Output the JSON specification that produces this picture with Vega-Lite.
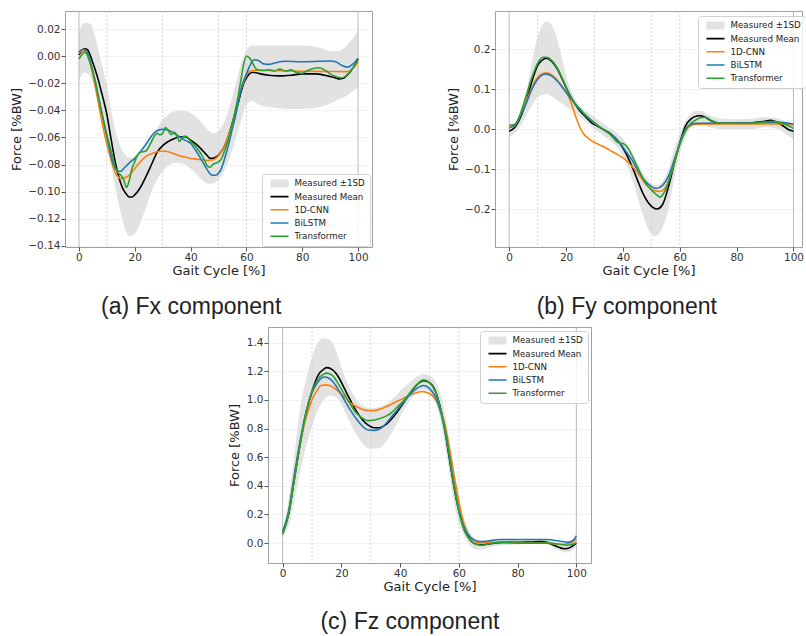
{
  "$schema": "https://vega.github.io/schema/vega-lite/v6.json",
  "background": "white",
  "padding": {"left": 9, "top": 10, "right": 0, "bottom": 0},
  "datasets": {
    "edges": [{"x": 0}, {"x": 100}],
    "phases": [{"x": 10}, {"x": 30}, {"x": 50}, {"x": 60}],
    "aband": [
      {"x":0,"lo":-0.018,"hi":0.018},{"x":2,"lo":-0.012,"hi":0.025},{"x":4,"lo":-0.015,"hi":0.024},{"x":6,"lo":-0.025,"hi":0.013},{"x":8,"lo":-0.04,"hi":-0.004},{"x":10,"lo":-0.06,"hi":-0.022},{"x":12,"lo":-0.085,"hi":-0.045},{"x":14,"lo":-0.107,"hi":-0.062},{"x":16,"lo":-0.124,"hi":-0.071},{"x":18,"lo":-0.133,"hi":-0.075},{"x":20,"lo":-0.131,"hi":-0.074},{"x":22,"lo":-0.123,"hi":-0.071},{"x":24,"lo":-0.112,"hi":-0.066},{"x":26,"lo":-0.1,"hi":-0.06},{"x":28,"lo":-0.091,"hi":-0.053},{"x":30,"lo":-0.085,"hi":-0.047},{"x":32,"lo":-0.081,"hi":-0.043},{"x":34,"lo":-0.079,"hi":-0.041},{"x":36,"lo":-0.079,"hi":-0.04},{"x":38,"lo":-0.08,"hi":-0.04},{"x":40,"lo":-0.083,"hi":-0.042},{"x":42,"lo":-0.087,"hi":-0.045},{"x":44,"lo":-0.091,"hi":-0.049},{"x":46,"lo":-0.094,"hi":-0.054},{"x":48,"lo":-0.094,"hi":-0.057},{"x":50,"lo":-0.091,"hi":-0.055},{"x":52,"lo":-0.085,"hi":-0.049},{"x":54,"lo":-0.075,"hi":-0.037},{"x":56,"lo":-0.062,"hi":-0.022},{"x":58,"lo":-0.048,"hi":-0.006},{"x":60,"lo":-0.036,"hi":0.004},{"x":62,"lo":-0.033,"hi":0.008},{"x":64,"lo":-0.035,"hi":0.008},{"x":66,"lo":-0.037,"hi":0.008},{"x":70,"lo":-0.038,"hi":0.008},{"x":75,"lo":-0.039,"hi":0.008},{"x":80,"lo":-0.039,"hi":0.008},{"x":85,"lo":-0.038,"hi":0.007},{"x":90,"lo":-0.035,"hi":0.004},{"x":93,"lo":-0.032,"hi":0.004},{"x":96,"lo":-0.029,"hi":0.008},{"x":98,"lo":-0.026,"hi":0.013},{"x":100,"lo":-0.023,"hi":0.019}
    ],
    "alines": [
      {"s":"Measured Mean","x":0,"y":0.001},{"s":"Measured Mean","x":1,"y":0.004},{"s":"Measured Mean","x":2,"y":0.0055},{"s":"Measured Mean","x":3,"y":0.005},{"s":"Measured Mean","x":4,"y":0.001},{"s":"Measured Mean","x":5,"y":-0.005},{"s":"Measured Mean","x":6,"y":-0.011},{"s":"Measured Mean","x":7,"y":-0.018},{"s":"Measured Mean","x":8,"y":-0.026},{"s":"Measured Mean","x":9,"y":-0.034},{"s":"Measured Mean","x":10,"y":-0.043},{"s":"Measured Mean","x":11,"y":-0.055},{"s":"Measured Mean","x":12,"y":-0.067},{"s":"Measured Mean","x":13,"y":-0.078},{"s":"Measured Mean","x":14,"y":-0.087},{"s":"Measured Mean","x":15,"y":-0.094},{"s":"Measured Mean","x":16,"y":-0.099},{"s":"Measured Mean","x":17,"y":-0.102},{"s":"Measured Mean","x":18,"y":-0.104},{"s":"Measured Mean","x":19,"y":-0.104},{"s":"Measured Mean","x":20,"y":-0.1025},{"s":"Measured Mean","x":22,"y":-0.097},{"s":"Measured Mean","x":24,"y":-0.089},{"s":"Measured Mean","x":26,"y":-0.08},{"s":"Measured Mean","x":28,"y":-0.071},{"s":"Measured Mean","x":30,"y":-0.066},{"s":"Measured Mean","x":32,"y":-0.063},{"s":"Measured Mean","x":34,"y":-0.061},{"s":"Measured Mean","x":36,"y":-0.0595},{"s":"Measured Mean","x":38,"y":-0.0595},{"s":"Measured Mean","x":40,"y":-0.062},{"s":"Measured Mean","x":42,"y":-0.065},{"s":"Measured Mean","x":44,"y":-0.069},{"s":"Measured Mean","x":46,"y":-0.0735},{"s":"Measured Mean","x":47,"y":-0.0755},{"s":"Measured Mean","x":48,"y":-0.0755},{"s":"Measured Mean","x":49,"y":-0.0745},{"s":"Measured Mean","x":50,"y":-0.073},{"s":"Measured Mean","x":51,"y":-0.0705},{"s":"Measured Mean","x":52,"y":-0.067},{"s":"Measured Mean","x":53,"y":-0.062},{"s":"Measured Mean","x":54,"y":-0.056},{"s":"Measured Mean","x":55,"y":-0.049},{"s":"Measured Mean","x":56,"y":-0.042},{"s":"Measured Mean","x":57,"y":-0.035},{"s":"Measured Mean","x":58,"y":-0.027},{"s":"Measured Mean","x":59,"y":-0.02},{"s":"Measured Mean","x":60,"y":-0.016},{"s":"Measured Mean","x":61,"y":-0.013},{"s":"Measured Mean","x":62,"y":-0.012},{"s":"Measured Mean","x":63,"y":-0.012},{"s":"Measured Mean","x":65,"y":-0.013},{"s":"Measured Mean","x":68,"y":-0.014},{"s":"Measured Mean","x":72,"y":-0.0145},{"s":"Measured Mean","x":76,"y":-0.014},{"s":"Measured Mean","x":80,"y":-0.013},{"s":"Measured Mean","x":85,"y":-0.013},{"s":"Measured Mean","x":88,"y":-0.014},{"s":"Measured Mean","x":90,"y":-0.015},{"s":"Measured Mean","x":92,"y":-0.016},{"s":"Measured Mean","x":93,"y":-0.0167},{"s":"Measured Mean","x":95,"y":-0.016},{"s":"Measured Mean","x":96,"y":-0.014},{"s":"Measured Mean","x":97,"y":-0.012},{"s":"Measured Mean","x":98,"y":-0.009},{"s":"Measured Mean","x":99,"y":-0.006},{"s":"Measured Mean","x":100,"y":-0.002},
      {"s":"1D-CNN","x":0,"y":0.002},{"s":"1D-CNN","x":1,"y":0.004},{"s":"1D-CNN","x":2,"y":0.004},{"s":"1D-CNN","x":3,"y":0.001},{"s":"1D-CNN","x":4,"y":-0.005},{"s":"1D-CNN","x":5,"y":-0.014},{"s":"1D-CNN","x":6,"y":-0.024},{"s":"1D-CNN","x":7,"y":-0.035},{"s":"1D-CNN","x":8,"y":-0.046},{"s":"1D-CNN","x":9,"y":-0.056},{"s":"1D-CNN","x":10,"y":-0.065},{"s":"1D-CNN","x":11,"y":-0.073},{"s":"1D-CNN","x":12,"y":-0.08},{"s":"1D-CNN","x":13,"y":-0.086},{"s":"1D-CNN","x":14,"y":-0.089},{"s":"1D-CNN","x":15,"y":-0.0905},{"s":"1D-CNN","x":16,"y":-0.09},{"s":"1D-CNN","x":18,"y":-0.088},{"s":"1D-CNN","x":20,"y":-0.083},{"s":"1D-CNN","x":22,"y":-0.078},{"s":"1D-CNN","x":24,"y":-0.074},{"s":"1D-CNN","x":26,"y":-0.072},{"s":"1D-CNN","x":28,"y":-0.0705},{"s":"1D-CNN","x":30,"y":-0.07},{"s":"1D-CNN","x":32,"y":-0.0705},{"s":"1D-CNN","x":34,"y":-0.072},{"s":"1D-CNN","x":36,"y":-0.0735},{"s":"1D-CNN","x":38,"y":-0.0745},{"s":"1D-CNN","x":40,"y":-0.0755},{"s":"1D-CNN","x":42,"y":-0.076},{"s":"1D-CNN","x":44,"y":-0.0765},{"s":"1D-CNN","x":46,"y":-0.077},{"s":"1D-CNN","x":48,"y":-0.0765},{"s":"1D-CNN","x":49,"y":-0.0755},{"s":"1D-CNN","x":50,"y":-0.0735},{"s":"1D-CNN","x":51,"y":-0.0705},{"s":"1D-CNN","x":52,"y":-0.067},{"s":"1D-CNN","x":53,"y":-0.062},{"s":"1D-CNN","x":54,"y":-0.056},{"s":"1D-CNN","x":55,"y":-0.05},{"s":"1D-CNN","x":56,"y":-0.041},{"s":"1D-CNN","x":57,"y":-0.033},{"s":"1D-CNN","x":58,"y":-0.025},{"s":"1D-CNN","x":59,"y":-0.019},{"s":"1D-CNN","x":60,"y":-0.014},{"s":"1D-CNN","x":61,"y":-0.0115},{"s":"1D-CNN","x":62,"y":-0.0105},{"s":"1D-CNN","x":64,"y":-0.0103},{"s":"1D-CNN","x":70,"y":-0.0105},{"s":"1D-CNN","x":80,"y":-0.011},{"s":"1D-CNN","x":90,"y":-0.0112},{"s":"1D-CNN","x":95,"y":-0.0113},{"s":"1D-CNN","x":97,"y":-0.011},{"s":"1D-CNN","x":98,"y":-0.009},{"s":"1D-CNN","x":99,"y":-0.007},{"s":"1D-CNN","x":100,"y":-0.004},
      {"s":"BiLSTM","x":0,"y":0.003},{"s":"BiLSTM","x":1,"y":0.005},{"s":"BiLSTM","x":2,"y":0.005},{"s":"BiLSTM","x":3,"y":0.003},{"s":"BiLSTM","x":4,"y":-0.003},{"s":"BiLSTM","x":5,"y":-0.011},{"s":"BiLSTM","x":6,"y":-0.02},{"s":"BiLSTM","x":7,"y":-0.03},{"s":"BiLSTM","x":8,"y":-0.04},{"s":"BiLSTM","x":9,"y":-0.05},{"s":"BiLSTM","x":10,"y":-0.0595},{"s":"BiLSTM","x":11,"y":-0.069},{"s":"BiLSTM","x":12,"y":-0.078},{"s":"BiLSTM","x":13,"y":-0.083},{"s":"BiLSTM","x":14,"y":-0.085},{"s":"BiLSTM","x":15,"y":-0.085},{"s":"BiLSTM","x":16,"y":-0.083},{"s":"BiLSTM","x":18,"y":-0.079},{"s":"BiLSTM","x":20,"y":-0.0755},{"s":"BiLSTM","x":22,"y":-0.0705},{"s":"BiLSTM","x":24,"y":-0.065},{"s":"BiLSTM","x":26,"y":-0.059},{"s":"BiLSTM","x":27,"y":-0.0565},{"s":"BiLSTM","x":28,"y":-0.055},{"s":"BiLSTM","x":30,"y":-0.054},{"s":"BiLSTM","x":32,"y":-0.0545},{"s":"BiLSTM","x":34,"y":-0.057},{"s":"BiLSTM","x":36,"y":-0.0595},{"s":"BiLSTM","x":38,"y":-0.062},{"s":"BiLSTM","x":40,"y":-0.0645},{"s":"BiLSTM","x":42,"y":-0.07},{"s":"BiLSTM","x":44,"y":-0.077},{"s":"BiLSTM","x":46,"y":-0.084},{"s":"BiLSTM","x":47,"y":-0.087},{"s":"BiLSTM","x":48,"y":-0.088},{"s":"BiLSTM","x":49,"y":-0.088},{"s":"BiLSTM","x":50,"y":-0.0865},{"s":"BiLSTM","x":51,"y":-0.083},{"s":"BiLSTM","x":52,"y":-0.077},{"s":"BiLSTM","x":53,"y":-0.07},{"s":"BiLSTM","x":54,"y":-0.062},{"s":"BiLSTM","x":55,"y":-0.053},{"s":"BiLSTM","x":56,"y":-0.045},{"s":"BiLSTM","x":57,"y":-0.035},{"s":"BiLSTM","x":58,"y":-0.025},{"s":"BiLSTM","x":59,"y":-0.018},{"s":"BiLSTM","x":60,"y":-0.013},{"s":"BiLSTM","x":61,"y":-0.008},{"s":"BiLSTM","x":62,"y":-0.004},{"s":"BiLSTM","x":63,"y":-0.0025},{"s":"BiLSTM","x":64,"y":-0.003},{"s":"BiLSTM","x":65,"y":-0.004},{"s":"BiLSTM","x":66,"y":-0.0055},{"s":"BiLSTM","x":68,"y":-0.006},{"s":"BiLSTM","x":70,"y":-0.005},{"s":"BiLSTM","x":74,"y":-0.0037},{"s":"BiLSTM","x":80,"y":-0.004},{"s":"BiLSTM","x":86,"y":-0.0037},{"s":"BiLSTM","x":90,"y":-0.0035},{"s":"BiLSTM","x":92,"y":-0.004},{"s":"BiLSTM","x":94,"y":-0.0065},{"s":"BiLSTM","x":96,"y":-0.008},{"s":"BiLSTM","x":97,"y":-0.0075},{"s":"BiLSTM","x":98,"y":-0.006},{"s":"BiLSTM","x":99,"y":-0.004},{"s":"BiLSTM","x":100,"y":-0.0015},
      {"s":"Transformer","x":0,"y":-0.002},{"s":"Transformer","x":1,"y":0.001},{"s":"Transformer","x":2,"y":0.003},{"s":"Transformer","x":3,"y":0.001},{"s":"Transformer","x":4,"y":-0.005},{"s":"Transformer","x":5,"y":-0.012},{"s":"Transformer","x":6,"y":-0.02},{"s":"Transformer","x":7,"y":-0.03},{"s":"Transformer","x":8,"y":-0.04},{"s":"Transformer","x":9,"y":-0.049},{"s":"Transformer","x":10,"y":-0.058},{"s":"Transformer","x":11,"y":-0.066},{"s":"Transformer","x":12,"y":-0.074},{"s":"Transformer","x":13,"y":-0.082},{"s":"Transformer","x":14,"y":-0.086},{"s":"Transformer","x":15,"y":-0.088},{"s":"Transformer","x":16,"y":-0.091},{"s":"Transformer","x":17,"y":-0.097},{"s":"Transformer","x":18,"y":-0.092},{"s":"Transformer","x":19,"y":-0.083},{"s":"Transformer","x":20,"y":-0.078},{"s":"Transformer","x":21,"y":-0.073},{"s":"Transformer","x":22,"y":-0.071},{"s":"Transformer","x":23,"y":-0.0705},{"s":"Transformer","x":24,"y":-0.07},{"s":"Transformer","x":25,"y":-0.067},{"s":"Transformer","x":26,"y":-0.063},{"s":"Transformer","x":27,"y":-0.059},{"s":"Transformer","x":28,"y":-0.057},{"s":"Transformer","x":29,"y":-0.058},{"s":"Transformer","x":30,"y":-0.057},{"s":"Transformer","x":31,"y":-0.0525},{"s":"Transformer","x":32,"y":-0.055},{"s":"Transformer","x":33,"y":-0.058},{"s":"Transformer","x":34,"y":-0.056},{"s":"Transformer","x":35,"y":-0.058},{"s":"Transformer","x":36,"y":-0.063},{"s":"Transformer","x":37,"y":-0.06},{"s":"Transformer","x":38,"y":-0.059},{"s":"Transformer","x":39,"y":-0.06},{"s":"Transformer","x":40,"y":-0.063},{"s":"Transformer","x":41,"y":-0.065},{"s":"Transformer","x":42,"y":-0.067},{"s":"Transformer","x":43,"y":-0.07},{"s":"Transformer","x":44,"y":-0.073},{"s":"Transformer","x":45,"y":-0.077},{"s":"Transformer","x":46,"y":-0.081},{"s":"Transformer","x":47,"y":-0.082},{"s":"Transformer","x":48,"y":-0.08},{"s":"Transformer","x":49,"y":-0.079},{"s":"Transformer","x":50,"y":-0.078},{"s":"Transformer","x":51,"y":-0.076},{"s":"Transformer","x":52,"y":-0.071},{"s":"Transformer","x":53,"y":-0.065},{"s":"Transformer","x":54,"y":-0.058},{"s":"Transformer","x":55,"y":-0.05},{"s":"Transformer","x":56,"y":-0.04},{"s":"Transformer","x":57,"y":-0.03},{"s":"Transformer","x":58,"y":-0.018},{"s":"Transformer","x":59,"y":-0.006},{"s":"Transformer","x":60,"y":0.0},{"s":"Transformer","x":61,"y":-0.001},{"s":"Transformer","x":62,"y":-0.004},{"s":"Transformer","x":63,"y":-0.008},{"s":"Transformer","x":64,"y":-0.01},{"s":"Transformer","x":66,"y":-0.0105},{"s":"Transformer","x":68,"y":-0.01},{"s":"Transformer","x":70,"y":-0.011},{"s":"Transformer","x":72,"y":-0.0095},{"s":"Transformer","x":74,"y":-0.011},{"s":"Transformer","x":76,"y":-0.01},{"s":"Transformer","x":78,"y":-0.012},{"s":"Transformer","x":80,"y":-0.0125},{"s":"Transformer","x":82,"y":-0.0105},{"s":"Transformer","x":84,"y":-0.009},{"s":"Transformer","x":86,"y":-0.0085},{"s":"Transformer","x":88,"y":-0.01},{"s":"Transformer","x":90,"y":-0.013},{"s":"Transformer","x":92,"y":-0.015},{"s":"Transformer","x":94,"y":-0.016},{"s":"Transformer","x":96,"y":-0.014},{"s":"Transformer","x":98,"y":-0.009},{"s":"Transformer","x":100,"y":-0.003}
    ],
    "bband": [
      {"x":0,"lo":-0.02,"hi":0.01},{"x":2,"lo":-0.01,"hi":0.016},{"x":4,"lo":0.01,"hi":0.045},{"x":6,"lo":0.035,"hi":0.09},{"x":8,"lo":0.06,"hi":0.17},{"x":10,"lo":0.08,"hi":0.23},{"x":12,"lo":0.087,"hi":0.265},{"x":13,"lo":0.088,"hi":0.27},{"x":14,"lo":0.086,"hi":0.268},{"x":16,"lo":0.077,"hi":0.245},{"x":18,"lo":0.067,"hi":0.195},{"x":20,"lo":0.057,"hi":0.135},{"x":22,"lo":0.047,"hi":0.092},{"x":24,"lo":0.036,"hi":0.066},{"x":26,"lo":0.024,"hi":0.05},{"x":28,"lo":0.011,"hi":0.04},{"x":30,"lo":0.0,"hi":0.03},{"x":32,"lo":-0.01,"hi":0.02},{"x":34,"lo":-0.02,"hi":0.01},{"x":36,"lo":-0.032,"hi":0.0},{"x":38,"lo":-0.045,"hi":-0.01},{"x":40,"lo":-0.068,"hi":-0.024},{"x":42,"lo":-0.1,"hi":-0.044},{"x":44,"lo":-0.142,"hi":-0.07},{"x":46,"lo":-0.19,"hi":-0.098},{"x":48,"lo":-0.235,"hi":-0.12},{"x":50,"lo":-0.262,"hi":-0.135},{"x":51,"lo":-0.268,"hi":-0.139},{"x":52,"lo":-0.266,"hi":-0.14},{"x":54,"lo":-0.245,"hi":-0.13},{"x":56,"lo":-0.2,"hi":-0.1},{"x":58,"lo":-0.125,"hi":-0.05},{"x":60,"lo":-0.06,"hi":-0.012},{"x":62,"lo":-0.02,"hi":0.02},{"x":64,"lo":0.005,"hi":0.04},{"x":66,"lo":0.015,"hi":0.046},{"x":68,"lo":0.015,"hi":0.045},{"x":70,"lo":0.006,"hi":0.036},{"x":75,"lo":0.0,"hi":0.026},{"x":80,"lo":0.0,"hi":0.025},{"x":85,"lo":0.0,"hi":0.026},{"x":90,"lo":0.005,"hi":0.03},{"x":94,"lo":0.002,"hi":0.028},{"x":97,"lo":-0.01,"hi":0.02},{"x":100,"lo":-0.025,"hi":0.012}
    ],
    "blines": [
      {"s":"Measured Mean","x":0,"y":-0.005},{"s":"Measured Mean","x":2,"y":0.005},{"s":"Measured Mean","x":4,"y":0.03},{"s":"Measured Mean","x":6,"y":0.07},{"s":"Measured Mean","x":8,"y":0.12},{"s":"Measured Mean","x":10,"y":0.16},{"s":"Measured Mean","x":12,"y":0.175},{"s":"Measured Mean","x":13,"y":0.1775},{"s":"Measured Mean","x":15,"y":0.17},{"s":"Measured Mean","x":17,"y":0.15},{"s":"Measured Mean","x":19,"y":0.12},{"s":"Measured Mean","x":21,"y":0.09},{"s":"Measured Mean","x":23,"y":0.065},{"s":"Measured Mean","x":25,"y":0.045},{"s":"Measured Mean","x":27,"y":0.03},{"s":"Measured Mean","x":29,"y":0.016},{"s":"Measured Mean","x":31,"y":0.008},{"s":"Measured Mean","x":33,"y":0.0},{"s":"Measured Mean","x":35,"y":-0.008},{"s":"Measured Mean","x":37,"y":-0.02},{"s":"Measured Mean","x":39,"y":-0.036},{"s":"Measured Mean","x":41,"y":-0.06},{"s":"Measured Mean","x":43,"y":-0.09},{"s":"Measured Mean","x":45,"y":-0.125},{"s":"Measured Mean","x":47,"y":-0.16},{"s":"Measured Mean","x":49,"y":-0.185},{"s":"Measured Mean","x":51,"y":-0.198},{"s":"Measured Mean","x":52,"y":-0.2},{"s":"Measured Mean","x":54,"y":-0.188},{"s":"Measured Mean","x":56,"y":-0.145},{"s":"Measured Mean","x":58,"y":-0.088},{"s":"Measured Mean","x":60,"y":-0.035},{"s":"Measured Mean","x":62,"y":0.008},{"s":"Measured Mean","x":64,"y":0.026},{"s":"Measured Mean","x":66,"y":0.033},{"s":"Measured Mean","x":67,"y":0.034},{"s":"Measured Mean","x":69,"y":0.03},{"s":"Measured Mean","x":71,"y":0.021},{"s":"Measured Mean","x":74,"y":0.015},{"s":"Measured Mean","x":80,"y":0.015},{"s":"Measured Mean","x":85,"y":0.016},{"s":"Measured Mean","x":90,"y":0.02},{"s":"Measured Mean","x":92,"y":0.022},{"s":"Measured Mean","x":94,"y":0.018},{"s":"Measured Mean","x":96,"y":0.01},{"s":"Measured Mean","x":98,"y":0.0},{"s":"Measured Mean","x":100,"y":-0.005},
      {"s":"1D-CNN","x":0,"y":0.005},{"s":"1D-CNN","x":2,"y":0.01},{"s":"1D-CNN","x":4,"y":0.035},{"s":"1D-CNN","x":6,"y":0.07},{"s":"1D-CNN","x":8,"y":0.105},{"s":"1D-CNN","x":10,"y":0.13},{"s":"1D-CNN","x":12,"y":0.14},{"s":"1D-CNN","x":13,"y":0.141},{"s":"1D-CNN","x":15,"y":0.136},{"s":"1D-CNN","x":17,"y":0.122},{"s":"1D-CNN","x":19,"y":0.103},{"s":"1D-CNN","x":20,"y":0.093},{"s":"1D-CNN","x":21,"y":0.08},{"s":"1D-CNN","x":22,"y":0.062},{"s":"1D-CNN","x":23,"y":0.04},{"s":"1D-CNN","x":24,"y":0.02},{"s":"1D-CNN","x":25,"y":0.003},{"s":"1D-CNN","x":26,"y":-0.01},{"s":"1D-CNN","x":28,"y":-0.024},{"s":"1D-CNN","x":30,"y":-0.033},{"s":"1D-CNN","x":32,"y":-0.04},{"s":"1D-CNN","x":34,"y":-0.047},{"s":"1D-CNN","x":36,"y":-0.055},{"s":"1D-CNN","x":38,"y":-0.063},{"s":"1D-CNN","x":40,"y":-0.072},{"s":"1D-CNN","x":42,"y":-0.084},{"s":"1D-CNN","x":44,"y":-0.099},{"s":"1D-CNN","x":46,"y":-0.118},{"s":"1D-CNN","x":48,"y":-0.138},{"s":"1D-CNN","x":50,"y":-0.15},{"s":"1D-CNN","x":52,"y":-0.155},{"s":"1D-CNN","x":53,"y":-0.156},{"s":"1D-CNN","x":55,"y":-0.145},{"s":"1D-CNN","x":57,"y":-0.11},{"s":"1D-CNN","x":59,"y":-0.06},{"s":"1D-CNN","x":61,"y":-0.018},{"s":"1D-CNN","x":63,"y":0.005},{"s":"1D-CNN","x":65,"y":0.012},{"s":"1D-CNN","x":70,"y":0.013},{"s":"1D-CNN","x":80,"y":0.013},{"s":"1D-CNN","x":90,"y":0.013},{"s":"1D-CNN","x":95,"y":0.013},{"s":"1D-CNN","x":100,"y":0.01},
      {"s":"BiLSTM","x":0,"y":0.01},{"s":"BiLSTM","x":2,"y":0.012},{"s":"BiLSTM","x":4,"y":0.035},{"s":"BiLSTM","x":6,"y":0.065},{"s":"BiLSTM","x":8,"y":0.1},{"s":"BiLSTM","x":10,"y":0.125},{"s":"BiLSTM","x":12,"y":0.137},{"s":"BiLSTM","x":13,"y":0.138},{"s":"BiLSTM","x":15,"y":0.133},{"s":"BiLSTM","x":17,"y":0.12},{"s":"BiLSTM","x":19,"y":0.102},{"s":"BiLSTM","x":21,"y":0.083},{"s":"BiLSTM","x":23,"y":0.065},{"s":"BiLSTM","x":25,"y":0.048},{"s":"BiLSTM","x":27,"y":0.033},{"s":"BiLSTM","x":29,"y":0.02},{"s":"BiLSTM","x":31,"y":0.01},{"s":"BiLSTM","x":33,"y":0.0},{"s":"BiLSTM","x":35,"y":-0.01},{"s":"BiLSTM","x":37,"y":-0.02},{"s":"BiLSTM","x":39,"y":-0.035},{"s":"BiLSTM","x":41,"y":-0.055},{"s":"BiLSTM","x":43,"y":-0.075},{"s":"BiLSTM","x":45,"y":-0.1},{"s":"BiLSTM","x":47,"y":-0.122},{"s":"BiLSTM","x":49,"y":-0.138},{"s":"BiLSTM","x":51,"y":-0.147},{"s":"BiLSTM","x":52,"y":-0.148},{"s":"BiLSTM","x":54,"y":-0.14},{"s":"BiLSTM","x":56,"y":-0.118},{"s":"BiLSTM","x":58,"y":-0.078},{"s":"BiLSTM","x":60,"y":-0.035},{"s":"BiLSTM","x":62,"y":0.0},{"s":"BiLSTM","x":64,"y":0.012},{"s":"BiLSTM","x":66,"y":0.015},{"s":"BiLSTM","x":70,"y":0.015},{"s":"BiLSTM","x":80,"y":0.015},{"s":"BiLSTM","x":90,"y":0.017},{"s":"BiLSTM","x":95,"y":0.017},{"s":"BiLSTM","x":100,"y":0.013},
      {"s":"Transformer","x":0,"y":0.003},{"s":"Transformer","x":2,"y":0.01},{"s":"Transformer","x":4,"y":0.04},{"s":"Transformer","x":6,"y":0.085},{"s":"Transformer","x":8,"y":0.13},{"s":"Transformer","x":10,"y":0.165},{"s":"Transformer","x":12,"y":0.18},{"s":"Transformer","x":13,"y":0.18},{"s":"Transformer","x":15,"y":0.172},{"s":"Transformer","x":17,"y":0.152},{"s":"Transformer","x":19,"y":0.122},{"s":"Transformer","x":21,"y":0.09},{"s":"Transformer","x":23,"y":0.066},{"s":"Transformer","x":25,"y":0.05},{"s":"Transformer","x":27,"y":0.035},{"s":"Transformer","x":29,"y":0.022},{"s":"Transformer","x":31,"y":0.01},{"s":"Transformer","x":33,"y":0.0},{"s":"Transformer","x":35,"y":-0.01},{"s":"Transformer","x":37,"y":-0.025},{"s":"Transformer","x":38,"y":-0.032},{"s":"Transformer","x":39,"y":-0.035},{"s":"Transformer","x":40,"y":-0.036},{"s":"Transformer","x":42,"y":-0.05},{"s":"Transformer","x":44,"y":-0.078},{"s":"Transformer","x":46,"y":-0.108},{"s":"Transformer","x":48,"y":-0.135},{"s":"Transformer","x":50,"y":-0.152},{"s":"Transformer","x":52,"y":-0.165},{"s":"Transformer","x":53,"y":-0.17},{"s":"Transformer","x":55,"y":-0.152},{"s":"Transformer","x":57,"y":-0.11},{"s":"Transformer","x":59,"y":-0.06},{"s":"Transformer","x":61,"y":-0.02},{"s":"Transformer","x":63,"y":0.008},{"s":"Transformer","x":65,"y":0.02},{"s":"Transformer","x":67,"y":0.028},{"s":"Transformer","x":69,"y":0.03},{"s":"Transformer","x":71,"y":0.022},{"s":"Transformer","x":75,"y":0.015},{"s":"Transformer","x":80,"y":0.015},{"s":"Transformer","x":85,"y":0.015},{"s":"Transformer","x":90,"y":0.018},{"s":"Transformer","x":93,"y":0.02},{"s":"Transformer","x":96,"y":0.015},{"s":"Transformer","x":100,"y":0.002}
    ],
    "cband": [
      {"x":0,"lo":0.05,"hi":0.09},{"x":2,"lo":0.12,"hi":0.3},{"x":4,"lo":0.3,"hi":0.62},{"x":6,"lo":0.5,"hi":0.95},{"x":8,"lo":0.68,"hi":1.15},{"x":10,"lo":0.82,"hi":1.3},{"x":12,"lo":0.93,"hi":1.4},{"x":14,"lo":1.0,"hi":1.43},{"x":16,"lo":1.03,"hi":1.42},{"x":18,"lo":1.02,"hi":1.35},{"x":20,"lo":0.97,"hi":1.23},{"x":22,"lo":0.88,"hi":1.12},{"x":24,"lo":0.8,"hi":1.04},{"x":26,"lo":0.73,"hi":0.98},{"x":28,"lo":0.68,"hi":0.95},{"x":30,"lo":0.66,"hi":0.94},{"x":32,"lo":0.66,"hi":0.945},{"x":34,"lo":0.68,"hi":0.96},{"x":36,"lo":0.73,"hi":0.985},{"x":38,"lo":0.8,"hi":1.02},{"x":40,"lo":0.88,"hi":1.06},{"x":42,"lo":0.955,"hi":1.1},{"x":44,"lo":1.015,"hi":1.135},{"x":46,"lo":1.055,"hi":1.165},{"x":48,"lo":1.07,"hi":1.18},{"x":50,"lo":1.05,"hi":1.17},{"x":52,"lo":0.98,"hi":1.13},{"x":54,"lo":0.83,"hi":1.02},{"x":56,"lo":0.59,"hi":0.82},{"x":58,"lo":0.33,"hi":0.55},{"x":60,"lo":0.14,"hi":0.32},{"x":62,"lo":0.04,"hi":0.16},{"x":64,"lo":-0.02,"hi":0.07},{"x":66,"lo":-0.045,"hi":0.025},{"x":68,"lo":-0.045,"hi":0.02},{"x":70,"lo":-0.03,"hi":0.02},{"x":75,"lo":-0.015,"hi":0.025},{"x":80,"lo":-0.01,"hi":0.025},{"x":85,"lo":-0.005,"hi":0.025},{"x":90,"lo":-0.01,"hi":0.02},{"x":94,"lo":-0.05,"hi":0.0},{"x":97,"lo":-0.065,"hi":-0.01},{"x":100,"lo":-0.02,"hi":0.02}
    ],
    "clines": [
      {"s":"Measured Mean","x":0,"y":0.07},{"s":"Measured Mean","x":2,"y":0.2},{"s":"Measured Mean","x":4,"y":0.45},{"s":"Measured Mean","x":6,"y":0.7},{"s":"Measured Mean","x":8,"y":0.91},{"s":"Measured Mean","x":10,"y":1.06},{"s":"Measured Mean","x":12,"y":1.17},{"s":"Measured Mean","x":14,"y":1.215},{"s":"Measured Mean","x":15,"y":1.225},{"s":"Measured Mean","x":17,"y":1.21},{"s":"Measured Mean","x":19,"y":1.16},{"s":"Measured Mean","x":21,"y":1.08},{"s":"Measured Mean","x":23,"y":1.0},{"s":"Measured Mean","x":25,"y":0.925},{"s":"Measured Mean","x":27,"y":0.865},{"s":"Measured Mean","x":29,"y":0.825},{"s":"Measured Mean","x":31,"y":0.805},{"s":"Measured Mean","x":33,"y":0.805},{"s":"Measured Mean","x":35,"y":0.825},{"s":"Measured Mean","x":37,"y":0.865},{"s":"Measured Mean","x":39,"y":0.915},{"s":"Measured Mean","x":41,"y":0.975},{"s":"Measured Mean","x":43,"y":1.035},{"s":"Measured Mean","x":45,"y":1.09},{"s":"Measured Mean","x":47,"y":1.127},{"s":"Measured Mean","x":48,"y":1.134},{"s":"Measured Mean","x":49,"y":1.13},{"s":"Measured Mean","x":51,"y":1.1},{"s":"Measured Mean","x":53,"y":1.0},{"s":"Measured Mean","x":55,"y":0.82},{"s":"Measured Mean","x":57,"y":0.56},{"s":"Measured Mean","x":59,"y":0.32},{"s":"Measured Mean","x":61,"y":0.15},{"s":"Measured Mean","x":63,"y":0.05},{"s":"Measured Mean","x":65,"y":0.0},{"s":"Measured Mean","x":67,"y":-0.012},{"s":"Measured Mean","x":69,"y":-0.01},{"s":"Measured Mean","x":72,"y":0.0},{"s":"Measured Mean","x":75,"y":0.005},{"s":"Measured Mean","x":80,"y":0.005},{"s":"Measured Mean","x":85,"y":0.008},{"s":"Measured Mean","x":88,"y":0.01},{"s":"Measured Mean","x":90,"y":0.005},{"s":"Measured Mean","x":93,"y":-0.02},{"s":"Measured Mean","x":96,"y":-0.04},{"s":"Measured Mean","x":98,"y":-0.03},{"s":"Measured Mean","x":100,"y":0.0},
      {"s":"1D-CNN","x":0,"y":0.07},{"s":"1D-CNN","x":2,"y":0.22},{"s":"1D-CNN","x":4,"y":0.47},{"s":"1D-CNN","x":6,"y":0.7},{"s":"1D-CNN","x":8,"y":0.88},{"s":"1D-CNN","x":10,"y":1.0},{"s":"1D-CNN","x":12,"y":1.075},{"s":"1D-CNN","x":13,"y":1.1},{"s":"1D-CNN","x":15,"y":1.105},{"s":"1D-CNN","x":17,"y":1.09},{"s":"1D-CNN","x":19,"y":1.06},{"s":"1D-CNN","x":21,"y":1.02},{"s":"1D-CNN","x":23,"y":0.98},{"s":"1D-CNN","x":25,"y":0.955},{"s":"1D-CNN","x":27,"y":0.935},{"s":"1D-CNN","x":29,"y":0.926},{"s":"1D-CNN","x":31,"y":0.925},{"s":"1D-CNN","x":33,"y":0.935},{"s":"1D-CNN","x":35,"y":0.95},{"s":"1D-CNN","x":37,"y":0.97},{"s":"1D-CNN","x":39,"y":0.99},{"s":"1D-CNN","x":41,"y":1.01},{"s":"1D-CNN","x":43,"y":1.03},{"s":"1D-CNN","x":45,"y":1.047},{"s":"1D-CNN","x":47,"y":1.057},{"s":"1D-CNN","x":48,"y":1.058},{"s":"1D-CNN","x":49,"y":1.052},{"s":"1D-CNN","x":51,"y":1.03},{"s":"1D-CNN","x":53,"y":0.97},{"s":"1D-CNN","x":55,"y":0.85},{"s":"1D-CNN","x":57,"y":0.64},{"s":"1D-CNN","x":59,"y":0.4},{"s":"1D-CNN","x":61,"y":0.19},{"s":"1D-CNN","x":63,"y":0.07},{"s":"1D-CNN","x":65,"y":0.02},{"s":"1D-CNN","x":67,"y":0.0},{"s":"1D-CNN","x":70,"y":0.005},{"s":"1D-CNN","x":75,"y":0.005},{"s":"1D-CNN","x":80,"y":0.0},{"s":"1D-CNN","x":85,"y":0.0},{"s":"1D-CNN","x":90,"y":0.0},{"s":"1D-CNN","x":95,"y":-0.01},{"s":"1D-CNN","x":98,"y":0.0},{"s":"1D-CNN","x":100,"y":0.03},
      {"s":"BiLSTM","x":0,"y":0.08},{"s":"BiLSTM","x":2,"y":0.22},{"s":"BiLSTM","x":4,"y":0.48},{"s":"BiLSTM","x":6,"y":0.72},{"s":"BiLSTM","x":8,"y":0.92},{"s":"BiLSTM","x":10,"y":1.05},{"s":"BiLSTM","x":12,"y":1.125},{"s":"BiLSTM","x":14,"y":1.16},{"s":"BiLSTM","x":15,"y":1.158},{"s":"BiLSTM","x":17,"y":1.13},{"s":"BiLSTM","x":19,"y":1.07},{"s":"BiLSTM","x":21,"y":1.0},{"s":"BiLSTM","x":23,"y":0.93},{"s":"BiLSTM","x":25,"y":0.87},{"s":"BiLSTM","x":27,"y":0.82},{"s":"BiLSTM","x":29,"y":0.79},{"s":"BiLSTM","x":31,"y":0.787},{"s":"BiLSTM","x":33,"y":0.797},{"s":"BiLSTM","x":35,"y":0.83},{"s":"BiLSTM","x":37,"y":0.88},{"s":"BiLSTM","x":39,"y":0.93},{"s":"BiLSTM","x":41,"y":0.98},{"s":"BiLSTM","x":43,"y":1.03},{"s":"BiLSTM","x":45,"y":1.07},{"s":"BiLSTM","x":47,"y":1.095},{"s":"BiLSTM","x":48,"y":1.1},{"s":"BiLSTM","x":50,"y":1.08},{"s":"BiLSTM","x":52,"y":1.02},{"s":"BiLSTM","x":54,"y":0.9},{"s":"BiLSTM","x":56,"y":0.7},{"s":"BiLSTM","x":58,"y":0.45},{"s":"BiLSTM","x":60,"y":0.23},{"s":"BiLSTM","x":62,"y":0.1},{"s":"BiLSTM","x":64,"y":0.04},{"s":"BiLSTM","x":66,"y":0.015},{"s":"BiLSTM","x":68,"y":0.01},{"s":"BiLSTM","x":70,"y":0.015},{"s":"BiLSTM","x":74,"y":0.025},{"s":"BiLSTM","x":80,"y":0.025},{"s":"BiLSTM","x":85,"y":0.025},{"s":"BiLSTM","x":90,"y":0.025},{"s":"BiLSTM","x":94,"y":0.015},{"s":"BiLSTM","x":97,"y":0.005},{"s":"BiLSTM","x":99,"y":0.02},{"s":"BiLSTM","x":100,"y":0.05},
      {"s":"Transformer","x":0,"y":0.06},{"s":"Transformer","x":2,"y":0.2},{"s":"Transformer","x":4,"y":0.45},{"s":"Transformer","x":6,"y":0.7},{"s":"Transformer","x":8,"y":0.91},{"s":"Transformer","x":10,"y":1.06},{"s":"Transformer","x":12,"y":1.145},{"s":"Transformer","x":14,"y":1.18},{"s":"Transformer","x":15,"y":1.187},{"s":"Transformer","x":17,"y":1.17},{"s":"Transformer","x":19,"y":1.11},{"s":"Transformer","x":21,"y":1.04},{"s":"Transformer","x":23,"y":0.97},{"s":"Transformer","x":25,"y":0.91},{"s":"Transformer","x":27,"y":0.875},{"s":"Transformer","x":29,"y":0.855},{"s":"Transformer","x":31,"y":0.858},{"s":"Transformer","x":33,"y":0.87},{"s":"Transformer","x":35,"y":0.885},{"s":"Transformer","x":37,"y":0.91},{"s":"Transformer","x":39,"y":0.95},{"s":"Transformer","x":41,"y":0.99},{"s":"Transformer","x":43,"y":1.04},{"s":"Transformer","x":45,"y":1.09},{"s":"Transformer","x":47,"y":1.13},{"s":"Transformer","x":48,"y":1.14},{"s":"Transformer","x":50,"y":1.12},{"s":"Transformer","x":52,"y":1.06},{"s":"Transformer","x":54,"y":0.92},{"s":"Transformer","x":56,"y":0.72},{"s":"Transformer","x":58,"y":0.45},{"s":"Transformer","x":60,"y":0.22},{"s":"Transformer","x":62,"y":0.08},{"s":"Transformer","x":64,"y":0.02},{"s":"Transformer","x":66,"y":-0.01},{"s":"Transformer","x":68,"y":-0.015},{"s":"Transformer","x":70,"y":-0.005},{"s":"Transformer","x":75,"y":0.005},{"s":"Transformer","x":80,"y":0.0},{"s":"Transformer","x":85,"y":0.0},{"s":"Transformer","x":90,"y":0.0},{"s":"Transformer","x":95,"y":-0.01},{"s":"Transformer","x":97,"y":-0.015},{"s":"Transformer","x":100,"y":0.0}
    ]
  },
  "vconcat": [
    {
      "hconcat": [
        {
          "width": 307, "height": 236,
          "title": {"text": "(a) Fx component", "offset": 18},
          "encoding": {"x": {"field": "x", "type": "quantitative", "scale": {"domain": [-5, 105], "nice": false, "zero": false}, "axis": {"title": "Gait Cycle [%]", "values": [0, 20, 40, 60, 80, 100]}}},
          "layer": [
            {"data": {"name": "aband"}, "mark": {"type": "area", "interpolate": "monotone", "opacity": 1},
             "encoding": {"y": {"field": "lo", "type": "quantitative", "scale": {"domain": [-0.141, 0.0335], "nice": false, "zero": false}, "axis": {"title": "Force [%BW]", "values": [-0.14, -0.12, -0.1, -0.08, -0.06, -0.04, -0.02, 0, 0.02], "format": ".2f"}}, "y2": {"field": "hi"},
               "color": {"datum": "Measured ±1SD", "type": "nominal", "scale": {"domain": ["Measured ±1SD", "Measured Mean", "1D-CNN", "BiLSTM", "Transformer"], "range": ["#e2e2e2", "#000000", "#ff7f0e", "#1f77b4", "#2ca02c"]}, "legend": {"orient": "none", "legendX": 197, "legendY": 163}}}},
            {"data": {"name": "edges"}, "mark": {"type": "rule", "color": "#b8b8b8", "strokeWidth": 1}, "encoding": {}},
            {"data": {"name": "phases"}, "mark": {"type": "rule", "color": "#c8c8c8", "strokeWidth": 0.8, "strokeDash": [2, 2]}, "encoding": {}},
            {"data": {"name": "alines"}, "mark": {"type": "line", "interpolate": "monotone"},
             "encoding": {"y": {"field": "y", "type": "quantitative", "scale": {"domain": [-0.141, 0.0335], "nice": false, "zero": false}, "axis": {"title": "Force [%BW]", "values": [-0.14, -0.12, -0.1, -0.08, -0.06, -0.04, -0.02, 0, 0.02], "format": ".2f"}},
               "color": {"field": "s", "type": "nominal", "scale": {"domain": ["Measured ±1SD", "Measured Mean", "1D-CNN", "BiLSTM", "Transformer"], "range": ["#e2e2e2", "#000000", "#ff7f0e", "#1f77b4", "#2ca02c"]}, "legend": {"orient": "none", "legendX": 197, "legendY": 163}},
               "strokeWidth": {"field": "s", "type": "nominal", "scale": {"type": "ordinal", "domain": ["Measured ±1SD", "Measured Mean", "1D-CNN", "BiLSTM", "Transformer"], "range": [8, 1.6, 1.6, 1.6, 1.6]}, "legend": {"orient": "none", "legendX": 197, "legendY": 163}}}}
          ]
        },
        {
          "width": 307, "height": 236,
          "title": {"text": "(b) Fy component", "offset": 18},
          "encoding": {"x": {"field": "x", "type": "quantitative", "scale": {"domain": [-5, 103], "nice": false, "zero": false}, "axis": {"title": "Gait Cycle [%]", "values": [0, 20, 40, 60, 80, 100]}}},
          "layer": [
            {"data": {"name": "bband"}, "mark": {"type": "area", "interpolate": "monotone", "opacity": 1},
             "encoding": {"y": {"field": "lo", "type": "quantitative", "scale": {"domain": [-0.295, 0.296], "nice": false, "zero": false}, "axis": {"title": "Force [%BW]", "values": [-0.2, -0.1, 0, 0.1, 0.2], "format": ".1f"}}, "y2": {"field": "hi"},
               "color": {"datum": "Measured ±1SD", "type": "nominal", "scale": {"domain": ["Measured ±1SD", "Measured Mean", "1D-CNN", "BiLSTM", "Transformer"], "range": ["#e2e2e2", "#000000", "#ff7f0e", "#1f77b4", "#2ca02c"]}, "legend": {"orient": "none", "legendX": 203, "legendY": 5}}}},
            {"data": {"name": "edges"}, "mark": {"type": "rule", "color": "#b8b8b8", "strokeWidth": 1}, "encoding": {}},
            {"data": {"name": "phases"}, "mark": {"type": "rule", "color": "#c8c8c8", "strokeWidth": 0.8, "strokeDash": [2, 2]}, "encoding": {}},
            {"data": {"name": "blines"}, "mark": {"type": "line", "interpolate": "monotone"},
             "encoding": {"y": {"field": "y", "type": "quantitative", "scale": {"domain": [-0.295, 0.296], "nice": false, "zero": false}, "axis": {"title": "Force [%BW]", "values": [-0.2, -0.1, 0, 0.1, 0.2], "format": ".1f"}},
               "color": {"field": "s", "type": "nominal", "scale": {"domain": ["Measured ±1SD", "Measured Mean", "1D-CNN", "BiLSTM", "Transformer"], "range": ["#e2e2e2", "#000000", "#ff7f0e", "#1f77b4", "#2ca02c"]}, "legend": {"orient": "none", "legendX": 203, "legendY": 5}},
               "strokeWidth": {"field": "s", "type": "nominal", "scale": {"type": "ordinal", "domain": ["Measured ±1SD", "Measured Mean", "1D-CNN", "BiLSTM", "Transformer"], "range": [8, 1.6, 1.6, 1.6, 1.6]}, "legend": {"orient": "none", "legendX": 203, "legendY": 5}}}}
          ]
        }
      ],
      "spacing": 73,
      "resolve": {"scale": {"color": "independent", "strokeWidth": "independent", "x": "independent", "y": "independent"}, "legend": {"color": "independent", "strokeWidth": "independent"}}
    },
    {
      "hconcat": [
        {"width": 163, "height": 236, "data": {"values": []}, "mark": {"type": "rule"}, "encoding": {}, "view": {"stroke": null}},
        {
          "width": 323, "height": 236,
          "title": {"text": "(c) Fz component", "offset": 17},
          "encoding": {"x": {"field": "x", "type": "quantitative", "scale": {"domain": [-5, 105], "nice": false, "zero": false}, "axis": {"title": "Gait Cycle [%]", "values": [0, 20, 40, 60, 80, 100]}}},
          "layer": [
            {"data": {"name": "cband"}, "mark": {"type": "area", "interpolate": "monotone", "opacity": 1},
             "encoding": {"y": {"field": "lo", "type": "quantitative", "scale": {"domain": [-0.139, 1.509], "nice": false, "zero": false}, "axis": {"title": "Force [%BW]", "values": [0, 0.2, 0.4, 0.6, 0.8, 1.0, 1.2, 1.4], "format": ".1f"}}, "y2": {"field": "hi"},
               "color": {"datum": "Measured ±1SD", "type": "nominal", "scale": {"domain": ["Measured ±1SD", "Measured Mean", "1D-CNN", "BiLSTM", "Transformer"], "range": ["#e2e2e2", "#000000", "#ff7f0e", "#1f77b4", "#2ca02c"]}, "legend": {"orient": "none", "legendX": 212, "legendY": 4}}}},
            {"data": {"name": "edges"}, "mark": {"type": "rule", "color": "#b8b8b8", "strokeWidth": 1}, "encoding": {}},
            {"data": {"name": "phases"}, "mark": {"type": "rule", "color": "#c8c8c8", "strokeWidth": 0.8, "strokeDash": [2, 2]}, "encoding": {}},
            {"data": {"name": "clines"}, "mark": {"type": "line", "interpolate": "monotone"},
             "encoding": {"y": {"field": "y", "type": "quantitative", "scale": {"domain": [-0.139, 1.509], "nice": false, "zero": false}, "axis": {"title": "Force [%BW]", "values": [0, 0.2, 0.4, 0.6, 0.8, 1.0, 1.2, 1.4], "format": ".1f"}},
               "color": {"field": "s", "type": "nominal", "scale": {"domain": ["Measured ±1SD", "Measured Mean", "1D-CNN", "BiLSTM", "Transformer"], "range": ["#e2e2e2", "#000000", "#ff7f0e", "#1f77b4", "#2ca02c"]}, "legend": {"orient": "none", "legendX": 212, "legendY": 4}},
               "strokeWidth": {"field": "s", "type": "nominal", "scale": {"type": "ordinal", "domain": ["Measured ±1SD", "Measured Mean", "1D-CNN", "BiLSTM", "Transformer"], "range": [8, 1.6, 1.6, 1.6, 1.6]}, "legend": {"orient": "none", "legendX": 212, "legendY": 4}}}}
          ]
        }
      ],
      "spacing": 0,
      "resolve": {"scale": {"color": "independent", "strokeWidth": "independent", "x": "independent", "y": "independent"}, "legend": {"color": "independent", "strokeWidth": "independent"}}
    }
  ],
  "spacing": 7,
  "resolve": {"scale": {"color": "independent", "strokeWidth": "independent", "x": "independent", "y": "independent"}, "legend": {"color": "independent", "strokeWidth": "independent"}},
  "config": {
    "font": "DejaVu Sans",
    "view": {"stroke": "#a0a0a0", "strokeWidth": 1},
    "axis": {"domain": false, "labelFont": "DejaVu Sans", "labelFontSize": 10.5, "labelColor": "#333333", "titleFont": "DejaVu Sans", "titleFontSize": 13, "titleFontWeight": "normal", "titleColor": "#222222", "tickColor": "#555555", "tickSize": 4, "labelPadding": 1, "gridColor": "#e6e6e6", "gridDash": [2, 2]},
    "axisX": {"grid": false, "titlePadding": 2, "labelFlush": false},
    "axisY": {"grid": true, "titlePadding": 4.5},
    "legend": {"title": null, "symbolType": "stroke", "symbolSize": 324, "labelFont": "DejaVu Sans", "labelFontSize": 8.7, "labelColor": "#222222", "padding": 4.5, "rowPadding": 3.2, "clipHeight": 9.8, "labelOffset": 2, "strokeColor": "#d0d0d0", "fillColor": "rgba(255,255,255,0.8)", "cornerRadius": 3, "symbolFillColor": "transparent"},
    "title": {"orient": "bottom", "anchor": "middle", "frame": "bounds", "font": "Liberation Sans", "fontSize": 23, "fontWeight": "normal", "color": "#222222", "offset": 16}
  }
}
